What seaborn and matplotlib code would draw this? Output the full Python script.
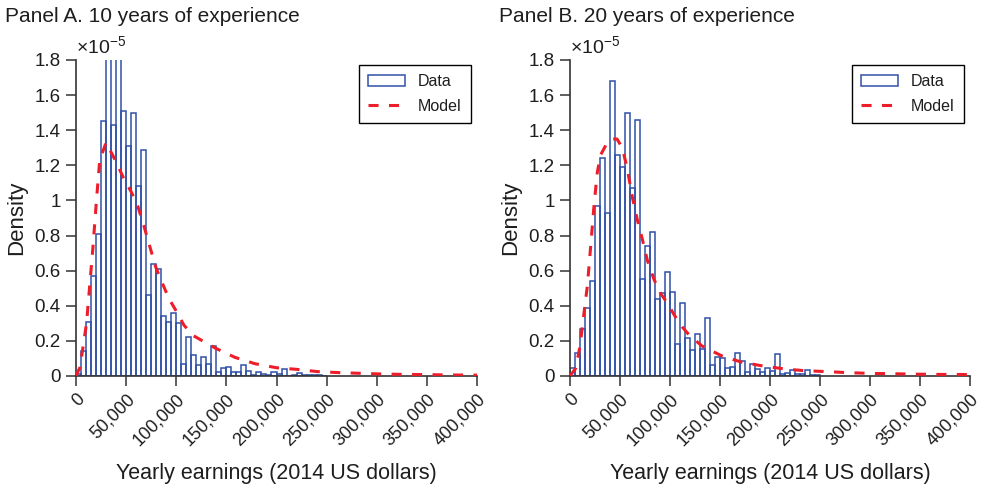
import numpy as np
import pandas as pd
import matplotlib
matplotlib.use("Agg")
import matplotlib.pyplot as plt
import seaborn as sns
from matplotlib.patches import Patch
from matplotlib.lines import Line2D
from matplotlib.ticker import FuncFormatter, MultipleLocator

# bin heights in units of 1e-5, one value per 5,000 dollar bin starting at 0
BIN_WIDTH = 5000
hist_a = [0.01, 0.14, 0.31, 0.57, 0.81, 1.45, 2.00, 1.43, 1.95, 1.51,
          1.31, 1.50, 1.08, 1.29, 0.46, 0.64, 0.61, 0.34, 0.31, 0.36,
          0.30, 0.07, 0.22, 0.12, 0.06, 0.11, 0.07, 0.17, 0.025, 0.045,
          0.05, 0.02, 0.02, 0.065, 0.03, 0.006, 0.02, 0.01, 0.008, 0.02,
          0.01, 0.04, 0.0, 0.004, 0.015, 0.003, 0.008, 0.008, 0.003, 0.002]
hist_b = [0.044, 0.13, 0.27, 0.39, 0.54, 0.97, 1.24, 0.93, 1.68, 1.26,
          1.19, 1.50, 1.07, 1.46, 0.55, 0.74, 0.82, 0.44, 0.47, 0.59,
          0.48, 0.18, 0.415, 0.215, 0.15, 0.24, 0.155, 0.33, 0.06, 0.11,
          0.105, 0.044, 0.053, 0.13, 0.087, 0.02, 0.07, 0.042, 0.02, 0.047,
          0.03, 0.125, 0.013, 0.015, 0.032, 0.011, 0.011, 0.034, 0.008, 0.003]

# model density curves (earnings in thousands, density in 1e-5)
model_a_x = [0, 4, 10.5, 17, 20.4, 23.7, 30, 40, 48, 55, 61.5, 68, 73, 79.6, 84.5,
             92.8, 101, 107.6, 117, 138.6, 158.6, 178.5, 200, 220, 241, 263, 285,
             307, 328, 350, 370, 392, 400]
model_a_y = [0, 0.05, 0.30, 0.74, 1.0, 1.23, 1.33, 1.22, 1.12, 1.05, 0.97, 0.85, 0.75,
             0.62, 0.55, 0.44, 0.36, 0.29, 0.23, 0.16, 0.106, 0.07, 0.047, 0.038,
             0.025, 0.019, 0.015, 0.011, 0.009, 0.008, 0.006, 0.005, 0.005]
model_b_x = [0, 5.7, 10, 14, 17.3, 20.7, 24, 27.3, 30.7, 37.3, 42.3, 47, 52.3, 57.3,
             62.3, 67.3, 72.3, 77.3, 84, 90.7, 97.3, 104, 110.7, 119, 132, 152, 172,
             193, 215, 235, 257, 278, 300, 322, 342, 363, 385, 400]
model_b_y = [0, 0.044, 0.17, 0.36, 0.51, 0.74, 0.97, 1.16, 1.26, 1.33, 1.35, 1.35, 1.30,
             1.18, 1.02, 0.89, 0.78, 0.66, 0.55, 0.47, 0.415, 0.35, 0.29, 0.234, 0.171,
             0.114, 0.078, 0.057, 0.040, 0.030, 0.025, 0.019, 0.015, 0.013, 0.011,
             0.009, 0.009, 0.008]

titles = ["Panel A. 10 years of experience", "Panel B. 20 years of experience"]
xticks = np.arange(0, 400001, 50000)

BLUE = "#3050a8"
RED = "#ee1d2a"
INK = "#1e1e1e"

sns.set_style("ticks")
plt.rcParams["font.family"] = ["Liberation Sans", "DejaVu Sans"]
plt.rcParams["mathtext.fontset"] = "custom"
plt.rcParams["mathtext.rm"] = "Liberation Sans"
plt.rcParams["axes.edgecolor"] = "#333333"
plt.rcParams["axes.linewidth"] = 1.2
plt.rcParams["text.color"] = INK
plt.rcParams["axes.labelcolor"] = INK
plt.rcParams["xtick.color"] = INK
plt.rcParams["ytick.color"] = INK


def draw_panel(ax, heights, mx, my, title, x_fig):
    heights = np.array(heights) * 1e-5
    left = np.arange(len(heights)) * BIN_WIDTH
    df = pd.DataFrame({"earn": left + BIN_WIDTH / 2, "dens": heights})
    sns.histplot(data=df, x="earn", weights="dens", binwidth=BIN_WIDTH,
                 binrange=(0, len(heights) * BIN_WIDTH), stat="count",
                 element="bars", fill=False, color=BLUE, linewidth=1.1, ax=ax)
    model = pd.DataFrame({"earn": np.array(mx) * 1000, "dens": np.array(my) * 1e-5})
    sns.lineplot(data=model, x="earn", y="dens", color=RED, linewidth=2.2, ax=ax, zorder=5)
    ax.lines[-1].set_dashes((3.3, 3.4))

    ax.set_xlim(0, 400000)
    ax.set_ylim(0, 1.8e-5)
    ax.set_xticks(xticks)
    ax.set_xticklabels([f"{v:,}" for v in xticks], rotation=45, ha="right",
                       rotation_mode="anchor", fontsize=13)
    ax.yaxis.set_major_locator(MultipleLocator(0.2e-5))
    ax.yaxis.set_major_formatter(FuncFormatter(lambda v, p: f"{round(v * 1e5, 1):g}"))
    ax.tick_params(axis="y", labelsize=13.5, pad=4)
    ax.tick_params(direction="out", length=7, width=1.1, color="#333333")
    ax.set_xlabel("Yearly earnings (2014 US dollars)", fontsize=15.5, labelpad=10)
    ax.set_ylabel("Density", fontsize=16, labelpad=5)
    ax.text(0.0, 1.008, r"$\times\mathregular{10^{-5}}$", transform=ax.transAxes,
            fontsize=14, va="bottom", ha="left")
    sns.despine(ax=ax)

    handles = [Patch(facecolor="white", edgecolor=BLUE, linewidth=1.1),
               Line2D([0], [0], color=RED, linewidth=2.2, dashes=(3.3, 3.4))]
    leg = ax.legend(handles, ["Data", "Model"], loc="upper right",
                    bbox_to_anchor=(0.985, 0.985), borderaxespad=0, fontsize=11.5,
                    fancybox=False, framealpha=1, edgecolor="black",
                    handlelength=2.3, borderpad=0.6, labelspacing=0.6)
    leg.get_frame().set_linewidth(1.0)
    plt.gcf().text(x_fig, 1 - 16 / 494, title, fontsize=15, va="center", ha="left")


fig = plt.figure(figsize=(9.85, 4.94), dpi=100)
ax_a = fig.add_axes([76 / 985, 1 - 376 / 494, 401 / 985, 316 / 494])
ax_b = fig.add_axes([570 / 985, 1 - 376 / 494, 400 / 985, 316 / 494])

draw_panel(ax_a, hist_a, model_a_x, model_a_y, titles[0], 5 / 985)
draw_panel(ax_b, hist_b, model_b_x, model_b_y, titles[1], 499 / 985)

fig.savefig("out.png", dpi=100)
